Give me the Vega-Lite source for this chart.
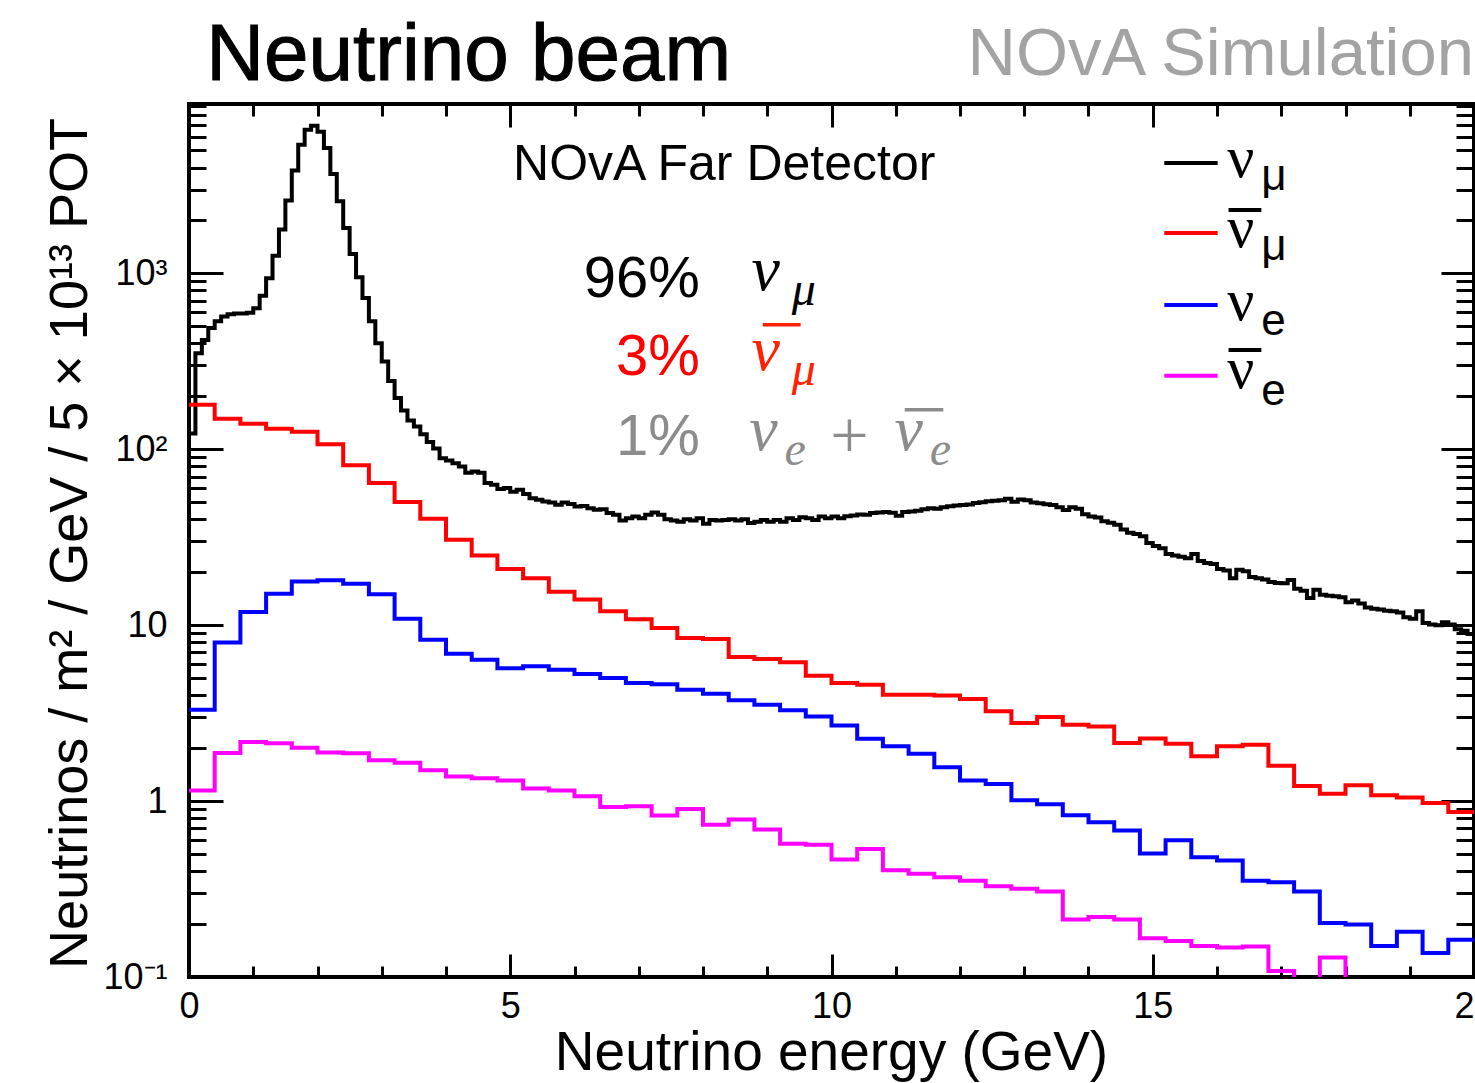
{
  "$schema": "https://vega.github.io/schema/vega-lite/v6.json",
  "width": 1285,
  "height": 873,
  "autosize": {"type": "none"},
  "padding": {"left": 189, "top": 104, "right": 1, "bottom": 106},
  "background": "white",
  "config": {
    "view": {"stroke": "black", "strokeWidth": 4},
    "axis": {"grid": false, "domain": false, "labelColor": "black", "tickColor": "black", "titleColor": "black", "labelFont": "Liberation Sans", "titleFont": "Liberation Sans", "titleFontWeight": "normal", "labelFlush": false, "labelOverlap": false, "labelBound": false},
    "text": {"font": "Liberation Sans"}
  },
  "resolve": {"axis": {"x": "independent", "y": "independent"}},
  "datasets": {
    "numu": [
      {"e":0.0,"f":123},{"e":0.1,"f":352},{"e":0.2,"f":419},{"e":0.3,"f":489},{"e":0.4,"f":534},{"e":0.5,"f":570},{"e":0.6,"f":587},{"e":0.7,"f":591},{"e":0.8,"f":591},{"e":0.9,"f":598},
      {"e":1.0,"f":635},{"e":1.1,"f":746},{"e":1.2,"f":940},{"e":1.3,"f":1260},{"e":1.4,"f":1775},{"e":1.5,"f":2595},{"e":1.6,"f":3850},{"e":1.7,"f":5390},{"e":1.8,"f":6550},{"e":1.9,"f":6910},
      {"e":2.0,"f":6400},{"e":2.1,"f":5160},{"e":2.2,"f":3670},{"e":2.3,"f":2575},{"e":2.4,"f":1815},{"e":2.5,"f":1290},{"e":2.6,"f":950},{"e":2.7,"f":726},{"e":2.8,"f":534},{"e":2.9,"f":401},
      {"e":3.0,"f":316},{"e":3.1,"f":245},{"e":3.2,"f":196},{"e":3.3,"f":166},{"e":3.4,"f":146},{"e":3.5,"f":135},{"e":3.6,"f":122},{"e":3.7,"f":110},{"e":3.8,"f":101},{"e":3.9,"f":89},
      {"e":4.0,"f":86.3},{"e":4.1,"f":83.4},{"e":4.2,"f":79.8},{"e":4.3,"f":73.7},{"e":4.4,"f":74.7},{"e":4.5,"f":73.7},{"e":4.6,"f":64.3},{"e":4.7,"f":62.8},{"e":4.8,"f":59.4},{"e":4.9,"f":60.3},
      {"e":5.0,"f":57.4},{"e":5.1,"f":58.9},{"e":5.2,"f":55.8},{"e":5.3,"f":52.7},{"e":5.4,"f":51.6},{"e":5.5,"f":50.5},{"e":5.6,"f":49.8},{"e":5.7,"f":48.4},{"e":5.8,"f":49.8},{"e":5.9,"f":48.9},
      {"e":6.0,"f":47.3},{"e":6.1,"f":47.6},{"e":6.2,"f":46.3},{"e":6.3,"f":45.3},{"e":6.4,"f":45.6},{"e":6.5,"f":43.4},{"e":6.6,"f":42.5},{"e":6.7,"f":39.4},{"e":6.8,"f":40.6},{"e":6.9,"f":41.5},
      {"e":7.0,"f":40.6},{"e":7.1,"f":42.5},{"e":7.2,"f":43.7},{"e":7.3,"f":42.5},{"e":7.4,"f":40.1},{"e":7.5,"f":39.4},{"e":7.6,"f":38.8},{"e":7.7,"f":40.1},{"e":7.8,"f":39.4},{"e":7.9,"f":40.6},
      {"e":8.0,"f":37.7},{"e":8.1,"f":39.7},{"e":8.2,"f":39.4},{"e":8.3,"f":39.7},{"e":8.4,"f":40.1},{"e":8.5,"f":39.4},{"e":8.6,"f":40.1},{"e":8.7,"f":38.1},{"e":8.8,"f":38.8},{"e":8.9,"f":39.7},
      {"e":9.0,"f":38.8},{"e":9.1,"f":39.7},{"e":9.2,"f":38.8},{"e":9.3,"f":40.6},{"e":9.4,"f":39.7},{"e":9.5,"f":41.1},{"e":9.6,"f":40.6},{"e":9.7,"f":39.7},{"e":9.8,"f":41.5},{"e":9.9,"f":40.6},
      {"e":10.0,"f":41.5},{"e":10.1,"f":40.6},{"e":10.2,"f":41.6},{"e":10.3,"f":42.0},{"e":10.4,"f":42.6},{"e":10.5,"f":42.4},{"e":10.6,"f":43.4},{"e":10.7,"f":43.8},{"e":10.8,"f":44.0},{"e":10.9,"f":43.6},
      {"e":11.0,"f":41.9},{"e":11.1,"f":44.0},{"e":11.2,"f":44.3},{"e":11.3,"f":44.8},{"e":11.4,"f":45.6},{"e":11.5,"f":46.2},{"e":11.6,"f":46.0},{"e":11.7,"f":46.9},{"e":11.8,"f":47.5},{"e":11.9,"f":47.9},
      {"e":12.0,"f":48.3},{"e":12.1,"f":48.6},{"e":12.2,"f":49.5},{"e":12.3,"f":50.0},{"e":12.4,"f":50.6},{"e":12.5,"f":51.0},{"e":12.6,"f":51.3},{"e":12.7,"f":52.4},{"e":12.8,"f":50.3},{"e":12.9,"f":51.9},
      {"e":13.0,"f":51.4},{"e":13.1,"f":49.8},{"e":13.2,"f":49.4},{"e":13.3,"f":48.8},{"e":13.4,"f":48.3},{"e":13.5,"f":46.8},{"e":13.6,"f":45.2},{"e":13.7,"f":46.9},{"e":13.8,"f":45.9},{"e":13.9,"f":42.8},
      {"e":14.0,"f":41.5},{"e":14.1,"f":40.9},{"e":14.2,"f":39.0},{"e":14.3,"f":38.2},{"e":14.4,"f":37.3},{"e":14.5,"f":35.0},{"e":14.6,"f":33.6},{"e":14.7,"f":33.0},{"e":14.8,"f":32.1},{"e":14.9,"f":29.3},
      {"e":15.0,"f":28.2},{"e":15.1,"f":27.4},{"e":15.2,"f":25.4},{"e":15.3,"f":24.9},{"e":15.4,"f":24.5},{"e":15.5,"f":24.0},{"e":15.6,"f":25.4},{"e":15.7,"f":23.2},{"e":15.8,"f":22.6},{"e":15.9,"f":22.3},
      {"e":16.0,"f":20.9},{"e":16.1,"f":20.5},{"e":16.2,"f":18.5},{"e":16.3,"f":20.7},{"e":16.4,"f":20.3},{"e":16.5,"f":18.8},{"e":16.6,"f":18.5},{"e":16.7,"f":18.2},{"e":16.8,"f":17.6},{"e":16.9,"f":17.4},
      {"e":17.0,"f":17.3},{"e":17.1,"f":18.1},{"e":17.2,"f":16.1},{"e":17.3,"f":15.7},{"e":17.4,"f":14.3},{"e":17.5,"f":15.9},{"e":17.6,"f":14.9},{"e":17.7,"f":14.7},{"e":17.8,"f":14.6},{"e":17.9,"f":14.4},
      {"e":18.0,"f":13.5},{"e":18.1,"f":13.8},{"e":18.2,"f":13.3},{"e":18.3,"f":12.6},{"e":18.4,"f":12.4},{"e":18.5,"f":12.3},{"e":18.6,"f":12.1},{"e":18.7,"f":12.0},{"e":18.8,"f":11.8},{"e":18.9,"f":11.1},
      {"e":19.0,"f":10.9},{"e":19.1,"f":12.0},{"e":19.2,"f":10.3},{"e":19.3,"f":10.1},{"e":19.4,"f":10.0},{"e":19.5,"f":10.4},{"e":19.6,"f":10.1},{"e":19.7,"f":9.5},{"e":19.8,"f":9.3},{"e":19.9,"f":8.9},
      {"e":20.0,"f":8.9}
    ],
    "numubar": [
      {"e":0.0,"f":179},{"e":0.4,"f":149},{"e":0.8,"f":140},{"e":1.2,"f":131},{"e":1.6,"f":126},{"e":2.0,"f":107},{"e":2.4,"f":81.3},{"e":2.8,"f":64.3},{"e":3.2,"f":50.1},{"e":3.6,"f":40.3},
      {"e":4.0,"f":30.6},{"e":4.4,"f":24.9},{"e":4.8,"f":20.9},{"e":5.2,"f":18.5},{"e":5.6,"f":15.5},{"e":6.0,"f":14.0},{"e":6.4,"f":12.0},{"e":6.8,"f":10.8},{"e":7.2,"f":9.64},{"e":7.6,"f":8.45},
      {"e":8.0,"f":8.35},{"e":8.4,"f":6.6},{"e":8.8,"f":6.43},{"e":9.2,"f":6.15},{"e":9.6,"f":5.16},{"e":10.0,"f":4.69},{"e":10.4,"f":4.59},{"e":10.8,"f":4.03},{"e":11.2,"f":4.03},{"e":11.6,"f":3.99},
      {"e":12.0,"f":3.81},{"e":12.4,"f":3.24},{"e":12.8,"f":2.78},{"e":13.2,"f":3.01},{"e":13.6,"f":2.72},{"e":14.0,"f":2.66},{"e":14.4,"f":2.14},{"e":14.8,"f":2.27},{"e":15.2,"f":2.12},{"e":15.6,"f":1.80},
      {"e":16.0,"f":2.05},{"e":16.4,"f":2.09},{"e":16.8,"f":1.59},{"e":17.2,"f":1.22},{"e":17.6,"f":1.10},{"e":18.0,"f":1.23},{"e":18.4,"f":1.08},{"e":18.8,"f":1.05},{"e":19.2,"f":0.977},{"e":19.6,"f":0.866},
      {"e":20.0,"f":0.866}
    ],
    "nue": [
      {"e":0.0,"f":3.31},{"e":0.4,"f":7.98},{"e":0.8,"f":11.9},{"e":1.2,"f":15.1},{"e":1.6,"f":17.7},{"e":2.0,"f":18.0},{"e":2.4,"f":17.2},{"e":2.8,"f":15.0},{"e":3.2,"f":10.9},{"e":3.6,"f":8.27},
      {"e":4.0,"f":6.89},{"e":4.4,"f":6.37},{"e":4.8,"f":5.69},{"e":5.2,"f":5.84},{"e":5.6,"f":5.59},{"e":6.0,"f":5.28},{"e":6.4,"f":5.01},{"e":6.8,"f":4.70},{"e":7.2,"f":4.61},{"e":7.6,"f":4.30},
      {"e":8.0,"f":4.08},{"e":8.4,"f":3.74},{"e":8.8,"f":3.53},{"e":9.2,"f":3.28},{"e":9.6,"f":3.03},{"e":10.0,"f":2.69},{"e":10.4,"f":2.26},{"e":10.8,"f":2.05},{"e":11.2,"f":1.86},{"e":11.6,"f":1.56},
      {"e":12.0,"f":1.31},{"e":12.4,"f":1.25},{"e":12.8,"f":1.01},{"e":13.2,"f":0.959},{"e":13.6,"f":0.830},{"e":14.0,"f":0.758},{"e":14.4,"f":0.680},{"e":14.8,"f":0.503},{"e":15.2,"f":0.599},{"e":15.6,"f":0.480},
      {"e":16.0,"f":0.459},{"e":16.4,"f":0.353},{"e":16.8,"f":0.346},{"e":17.2,"f":0.306},{"e":17.6,"f":0.203},{"e":18.0,"f":0.199},{"e":18.4,"f":0.150},{"e":18.8,"f":0.181},{"e":19.2,"f":0.137},{"e":19.6,"f":0.163},
      {"e":20.0,"f":0.163}
    ],
    "nuebar": [
      {"e":0.0,"f":1.15},{"e":0.4,"f":1.88},{"e":0.8,"f":2.17},{"e":1.2,"f":2.13},{"e":1.6,"f":2.01},{"e":2.0,"f":1.89},{"e":2.4,"f":1.87},{"e":2.8,"f":1.71},{"e":3.2,"f":1.65},{"e":3.6,"f":1.50},
      {"e":4.0,"f":1.38},{"e":4.4,"f":1.35},{"e":4.8,"f":1.31},{"e":5.2,"f":1.18},{"e":5.6,"f":1.15},{"e":6.0,"f":1.065},{"e":6.4,"f":0.927},{"e":6.8,"f":0.934},{"e":7.2,"f":0.827},{"e":7.6,"f":0.903},
      {"e":8.0,"f":0.735},{"e":8.4,"f":0.785},{"e":8.8,"f":0.689},{"e":9.2,"f":0.573},{"e":9.6,"f":0.564},{"e":10.0,"f":0.465},{"e":10.4,"f":0.535},{"e":10.8,"f":0.404},{"e":11.2,"f":0.386},{"e":11.6,"f":0.369},
      {"e":12.0,"f":0.353},{"e":12.4,"f":0.328},{"e":12.8,"f":0.317},{"e":13.2,"f":0.306},{"e":13.6,"f":0.212},{"e":14.0,"f":0.219},{"e":14.4,"f":0.212},{"e":14.8,"f":0.166},{"e":15.2,"f":0.160},{"e":15.6,"f":0.150},
      {"e":16.0,"f":0.147},{"e":16.4,"f":0.149},{"e":16.8,"f":0.108},{"e":17.2,"f":0.07},{"e":17.6,"f":0.129},{"e":18.0,"f":0.07},{"e":18.4,"f":0.07},{"e":18.8,"f":0.07},{"e":19.2,"f":0.07},{"e":19.6,"f":0.07},
      {"e":20.0,"f":0.07}
    ]
  },
  "layer": [
    {
      "data": {"name": "numu"},
      "mark": {"type": "line", "interpolate": "step-after", "color": "black", "strokeWidth": 4, "clip": true},
      "encoding": {
        "x": {"field": "e", "type": "quantitative", "scale": {"domain": [0, 20], "nice": false, "zero": false},
          "axis": {"orient": "bottom", "values": [0, 5, 10, 15, 20], "format": "d", "ticks": false, "labelFontSize": 36, "labelPadding": 12,
            "title": "Neutrino energy (GeV)", "titleFontSize": 55, "titleX": 642, "titleY": 92, "titleBaseline": "alphabetic", "titleAnchor": "middle"}},
        "y": {"field": "f", "type": "quantitative", "scale": {"type": "log", "domain": [0.1, 9190], "nice": false},
          "axis": {"orient": "left", "values": [0.1, 1, 10, 100, 1000], "ticks": false, "labelFontSize": 36, "labelPadding": 22,
            "labelExpr": "datum.value < 0.5 ? '10⁻¹' : datum.value < 5 ? '1' : datum.value < 50 ? '10' : datum.value < 500 ? '10²' : '10³'",
            "title": "Neutrinos / m² / GeV / 5 × 10¹³ POT", "titleFontSize": 54, "titleX": -103, "titleY": 439, "titleAngle": -90, "titleBaseline": "alphabetic", "titleAlign": "center"}}
      }
    },
    {
      "data": {"name": "numubar"},
      "mark": {"type": "line", "interpolate": "step-after", "color": "#ff0000", "strokeWidth": 4, "clip": true},
      "encoding": {
        "x": {"field": "e", "type": "quantitative", "axis": {"orient": "bottom", "values": [0, 5, 10, 15, 20], "labels": false, "tickSize": -23, "tickWidth": 3, "title": null}},
        "y": {"field": "f", "type": "quantitative", "axis": {"orient": "left", "values": [0.1, 1, 10, 100, 1000], "labels": false, "tickSize": -34, "tickWidth": 3, "title": null}}
      }
    },
    {
      "data": {"name": "nue"},
      "mark": {"type": "line", "interpolate": "step-after", "color": "#0000ff", "strokeWidth": 4, "clip": true},
      "encoding": {
        "x": {"field": "e", "type": "quantitative", "axis": {"orient": "bottom", "values": [1,2,3,4,6,7,8,9,11,12,13,14,16,17,18,19], "labels": false, "tickSize": -11, "tickWidth": 3, "title": null}},
        "y": {"field": "f", "type": "quantitative", "axis": {"orient": "left", "values": [0.2,0.3,0.4,0.5,0.6,0.7,0.8,0.9,2,3,4,5,6,7,8,9,20,30,40,50,60,70,80,90,200,300,400,500,600,700,800,900,2000,3000,4000,5000,6000,7000,8000,9000], "labels": false, "tickSize": -17, "tickWidth": 3, "title": null}}
      }
    },
    {
      "data": {"name": "nuebar"},
      "mark": {"type": "line", "interpolate": "step-after", "color": "#ff00ff", "strokeWidth": 4, "clip": true},
      "encoding": {
        "x": {"field": "e", "type": "quantitative", "axis": {"orient": "top", "values": [5, 10, 15], "labels": false, "tickSize": -23, "tickWidth": 3, "title": null}},
        "y": {"field": "f", "type": "quantitative", "axis": {"orient": "right", "values": [0.1, 1, 10, 100, 1000], "labels": false, "tickSize": -33, "tickWidth": 3, "title": null}}
      }
    },
    {
      "data": {"values": [{}]},
      "mark": {"type": "rule", "color": "black", "strokeWidth": 4},
      "encoding": {
        "x": {"datum": 15.18, "type": "quantitative", "axis": {"orient": "top", "values": [1,2,3,4,6,7,8,9,11,12,13,14,16,17,18,19], "labels": false, "tickSize": -12, "tickWidth": 3, "title": null}},
        "x2": {"datum": 16.01},
        "y": {"datum": 4245, "type": "quantitative", "axis": {"orient": "right", "values": [0.2,0.3,0.4,0.5,0.6,0.7,0.8,0.9,2,3,4,5,6,7,8,9,20,30,40,50,60,70,80,90,200,300,400,500,600,700,800,900,2000,3000,4000,5000,6000,7000,8000,9000], "labels": false, "tickSize": -18, "tickWidth": 3, "title": null}}
      }
    },
    {
      "data": {"values": [{}]},
      "mark": {"type": "rule", "color": "#ff0000", "strokeWidth": 4},
      "encoding": {"x": {"datum": 15.18, "type": "quantitative", "axis": null}, "x2": {"datum": 16.01}, "y": {"datum": 1700, "type": "quantitative", "axis": null}}
    },
    {
      "data": {"values": [{}]},
      "mark": {"type": "rule", "color": "#0000ff", "strokeWidth": 4},
      "encoding": {"x": {"datum": 15.18, "type": "quantitative", "axis": null}, "x2": {"datum": 16.01}, "y": {"datum": 662, "type": "quantitative", "axis": null}}
    },
    {
      "data": {"values": [{}]},
      "mark": {"type": "rule", "color": "#ff00ff", "strokeWidth": 4},
      "encoding": {"x": {"datum": 15.18, "type": "quantitative", "axis": null}, "x2": {"datum": 16.01}, "y": {"datum": 262, "type": "quantitative", "axis": null}}
    },
    {
      "data": {"values": [{}]},
      "mark": {"type": "rule", "color": "black", "strokeWidth": 4},
      "encoding": {"x": {"datum": 16.18, "type": "quantitative", "axis": null}, "x2": {"datum": 16.69}, "y": {"datum": 2295, "type": "quantitative", "axis": null}}
    },
    {
      "data": {"values": [{}]},
      "mark": {"type": "rule", "color": "black", "strokeWidth": 4},
      "encoding": {"x": {"datum": 16.18, "type": "quantitative", "axis": null}, "x2": {"datum": 16.69}, "y": {"datum": 367, "type": "quantitative", "axis": null}}
    },
    {
      "data": {"values": [{}]},
      "mark": {"type": "rule", "color": "#ff2200", "strokeWidth": 3.5},
      "encoding": {"x": {"datum": 8.93, "type": "quantitative", "axis": null}, "x2": {"datum": 9.52}, "y": {"datum": 510, "type": "quantitative", "axis": null}}
    },
    {
      "data": {"values": [{}]},
      "mark": {"type": "rule", "color": "#8c8c8c", "strokeWidth": 3.5},
      "encoding": {"x": {"datum": 11.14, "type": "quantitative", "axis": null}, "x2": {"datum": 11.74}, "y": {"datum": 168, "type": "quantitative", "axis": null}}
    },
    {
      "data": {"values": [{}]},
      "mark": {"type": "text", "text": "ν", "font": "Liberation Serif", "fontSize": 60, "align": "left", "baseline": "alphabetic", "color": "black"},
      "encoding": {"x": {"datum": 16.16, "type": "quantitative", "axis": null}, "y": {"datum": 3535, "type": "quantitative", "axis": null}}
    },
    {
      "data": {"values": [{}]},
      "mark": {"type": "text", "text": "μ", "fontSize": 44, "align": "left", "baseline": "alphabetic", "color": "black"},
      "encoding": {"x": {"datum": 16.69, "type": "quantitative", "axis": null}, "y": {"datum": 2980, "type": "quantitative", "axis": null}}
    },
    {
      "data": {"values": [{}]},
      "mark": {"type": "text", "text": "ν", "font": "Liberation Serif", "fontSize": 60, "align": "left", "baseline": "alphabetic", "color": "black"},
      "encoding": {"x": {"datum": 16.16, "type": "quantitative", "axis": null}, "y": {"datum": 1414, "type": "quantitative", "axis": null}}
    },
    {
      "data": {"values": [{}]},
      "mark": {"type": "text", "text": "μ", "fontSize": 44, "align": "left", "baseline": "alphabetic", "color": "black"},
      "encoding": {"x": {"datum": 16.69, "type": "quantitative", "axis": null}, "y": {"datum": 1193, "type": "quantitative", "axis": null}}
    },
    {
      "data": {"values": [{}]},
      "mark": {"type": "text", "text": "ν", "font": "Liberation Serif", "fontSize": 60, "align": "left", "baseline": "alphabetic", "color": "black"},
      "encoding": {"x": {"datum": 16.16, "type": "quantitative", "axis": null}, "y": {"datum": 544, "type": "quantitative", "axis": null}}
    },
    {
      "data": {"values": [{}]},
      "mark": {"type": "text", "text": "e", "fontSize": 44, "align": "left", "baseline": "alphabetic", "color": "black"},
      "encoding": {"x": {"datum": 16.69, "type": "quantitative", "axis": null}, "y": {"datum": 448, "type": "quantitative", "axis": null}}
    },
    {
      "data": {"values": [{}]},
      "mark": {"type": "text", "text": "ν", "font": "Liberation Serif", "fontSize": 60, "align": "left", "baseline": "alphabetic", "color": "black"},
      "encoding": {"x": {"datum": 16.16, "type": "quantitative", "axis": null}, "y": {"datum": 223, "type": "quantitative", "axis": null}}
    },
    {
      "data": {"values": [{}]},
      "mark": {"type": "text", "text": "e", "fontSize": 44, "align": "left", "baseline": "alphabetic", "color": "black"},
      "encoding": {"x": {"datum": 16.69, "type": "quantitative", "axis": null}, "y": {"datum": 179, "type": "quantitative", "axis": null}}
    },
    {
      "data": {"values": [{}]},
      "mark": {"type": "text", "text": "Neutrino beam", "fontSize": 80, "align": "left", "baseline": "alphabetic", "color": "black", "stroke": "black", "strokeWidth": 1},
      "encoding": {"x": {"datum": 0.27, "type": "quantitative", "axis": null}, "y": {"datum": 12570, "type": "quantitative", "axis": null}}
    },
    {
      "data": {"values": [{}]},
      "mark": {"type": "text", "text": "NOvA Simulation", "fontSize": 67, "align": "right", "baseline": "alphabetic", "color": "#a3a3a3"},
      "encoding": {"x": {"datum": 20.0, "type": "quantitative", "axis": null}, "y": {"datum": 13430, "type": "quantitative", "axis": null}}
    },
    {
      "data": {"values": [{}]},
      "mark": {"type": "text", "text": "NOvA Far Detector", "fontSize": 50, "align": "center", "baseline": "alphabetic", "color": "black"},
      "encoding": {"x": {"datum": 8.33, "type": "quantitative", "axis": null}, "y": {"datum": 3400, "type": "quantitative", "axis": null}}
    },
    {
      "data": {"values": [{}]},
      "mark": {"type": "text", "text": "96%", "fontSize": 58, "align": "right", "baseline": "alphabetic", "color": "black"},
      "encoding": {"x": {"datum": 7.95, "type": "quantitative", "axis": null}, "y": {"datum": 735, "type": "quantitative", "axis": null}}
    },
    {
      "data": {"values": [{}]},
      "mark": {"type": "text", "text": "3%", "fontSize": 58, "align": "right", "baseline": "alphabetic", "color": "#ff0000"},
      "encoding": {"x": {"datum": 7.95, "type": "quantitative", "axis": null}, "y": {"datum": 265, "type": "quantitative", "axis": null}}
    },
    {
      "data": {"values": [{}]},
      "mark": {"type": "text", "text": "1%", "fontSize": 58, "align": "right", "baseline": "alphabetic", "color": "#8c8c8c"},
      "encoding": {"x": {"datum": 7.95, "type": "quantitative", "axis": null}, "y": {"datum": 93, "type": "quantitative", "axis": null}}
    },
    {
      "data": {"values": [{}]},
      "mark": {"type": "text", "text": "ν", "font": "Liberation Serif", "fontStyle": "italic", "fontSize": 64, "align": "left", "baseline": "alphabetic", "color": "black"},
      "encoding": {"x": {"datum": 8.755, "type": "quantitative", "axis": null}, "y": {"datum": 805, "type": "quantitative", "axis": null}}
    },
    {
      "data": {"values": [{}]},
      "mark": {"type": "text", "text": "μ", "font": "Liberation Serif", "fontStyle": "italic", "fontSize": 48, "align": "left", "baseline": "alphabetic", "color": "black"},
      "encoding": {"x": {"datum": 9.38, "type": "quantitative", "axis": null}, "y": {"datum": 662, "type": "quantitative", "axis": null}}
    },
    {
      "data": {"values": [{}]},
      "mark": {"type": "text", "text": "ν", "font": "Liberation Serif", "fontStyle": "italic", "fontSize": 64, "align": "left", "baseline": "alphabetic", "color": "#ff2200"},
      "encoding": {"x": {"datum": 8.755, "type": "quantitative", "axis": null}, "y": {"datum": 283, "type": "quantitative", "axis": null}}
    },
    {
      "data": {"values": [{}]},
      "mark": {"type": "text", "text": "μ", "font": "Liberation Serif", "fontStyle": "italic", "fontSize": 48, "align": "left", "baseline": "alphabetic", "color": "#ff2200"},
      "encoding": {"x": {"datum": 9.38, "type": "quantitative", "axis": null}, "y": {"datum": 232, "type": "quantitative", "axis": null}}
    },
    {
      "data": {"values": [{}]},
      "mark": {"type": "text", "text": "ν", "font": "Liberation Serif", "fontStyle": "italic", "fontSize": 64, "align": "left", "baseline": "alphabetic", "color": "#8c8c8c"},
      "encoding": {"x": {"datum": 8.72, "type": "quantitative", "axis": null}, "y": {"datum": 99.4, "type": "quantitative", "axis": null}}
    },
    {
      "data": {"values": [{}]},
      "mark": {"type": "text", "text": "e", "font": "Liberation Serif", "fontStyle": "italic", "fontSize": 48, "align": "left", "baseline": "alphabetic", "color": "#8c8c8c"},
      "encoding": {"x": {"datum": 9.27, "type": "quantitative", "axis": null}, "y": {"datum": 81.7, "type": "quantitative", "axis": null}}
    },
    {
      "data": {"values": [{}]},
      "mark": {"type": "text", "text": "+", "font": "Liberation Serif", "fontSize": 68, "align": "center", "baseline": "middle", "color": "#8c8c8c"},
      "encoding": {"x": {"datum": 10.28, "type": "quantitative", "axis": null}, "y": {"datum": 116, "type": "quantitative", "axis": null}}
    },
    {
      "data": {"values": [{}]},
      "mark": {"type": "text", "text": "ν", "font": "Liberation Serif", "fontStyle": "italic", "fontSize": 64, "align": "left", "baseline": "alphabetic", "color": "#8c8c8c"},
      "encoding": {"x": {"datum": 10.98, "type": "quantitative", "axis": null}, "y": {"datum": 99.4, "type": "quantitative", "axis": null}}
    },
    {
      "data": {"values": [{}]},
      "mark": {"type": "text", "text": "e", "font": "Liberation Serif", "fontStyle": "italic", "fontSize": 48, "align": "left", "baseline": "alphabetic", "color": "#8c8c8c"},
      "encoding": {"x": {"datum": 11.53, "type": "quantitative", "axis": null}, "y": {"datum": 81.7, "type": "quantitative", "axis": null}}
    }
  ]
}
